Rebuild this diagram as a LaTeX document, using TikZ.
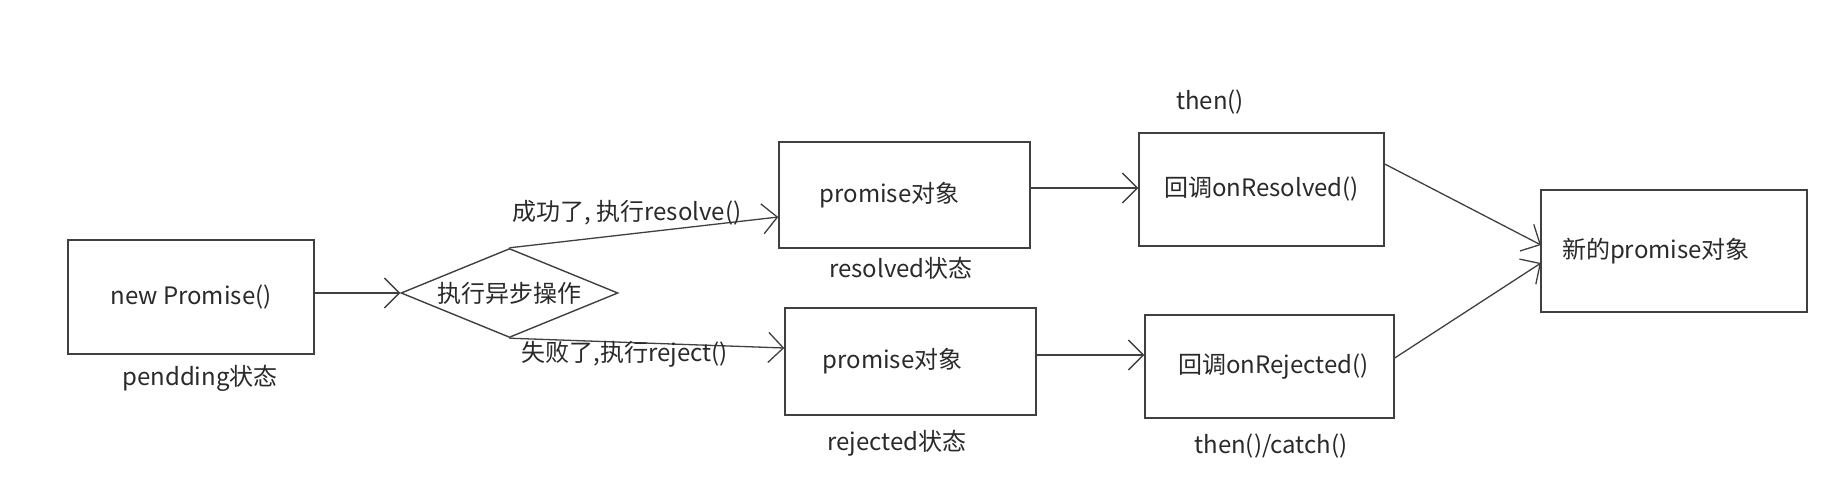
\documentclass[tikz,border=0pt]{standalone}
\usepackage{fontspec}
\setmainfont{Noto Sans CJK SC}
\usetikzlibrary{arrows.meta,shapes.geometric}
\definecolor{ln}{HTML}{404040}
\definecolor{tx}{HTML}{2A2A2A}
\tikzset{
  box/.style={draw=ln,line width=1.4pt,rectangle,inner sep=0pt,text=tx},
  lbl/.style={text=tx,inner sep=0pt},
  arr/.style={draw=ln,line width=1.3pt,-{Straight Barb[length=15pt,width=30pt,line width=1.3pt]}}
}
\begin{document}
\begin{tikzpicture}[x=1pt,y=-1pt,font=\fontsize{24}{28}\selectfont]
\useasboundingbox (0,0) rectangle (1842,488);
\fill[white] (0,0) rectangle (1842,488);
% boxes
\node[box,minimum width=246pt,minimum height=114pt] (np) at (191,297) {new Promise()};
\node[lbl] (pend) at (200,378) {pendding状态};
\node[box,diamond,aspect=2.44,minimum width=217pt,minimum height=89pt,inner sep=0pt] (dia) at (509.5,293) {执行异步操作};
\node[box,minimum width=251pt,minimum height=106pt] (pr) at (904.5,195) {\hspace*{-30pt}promise对象};
\node[lbl] (rs) at (901,268) {resolved状态};
\node[box,minimum width=251pt,minimum height=107pt] (pj) at (910.5,361.5) {\hspace*{-36pt}promise对象};
\node[lbl] (rj) at (897,443) {rejected状态};
\node[box,minimum width=245pt,minimum height=113pt] (or) at (1261.5,189.5) {回调onResolved()};
\node[lbl] (th) at (1210,102) {then()};
\node[box,minimum width=249pt,minimum height=103pt] (oj) at (1269.5,366.5) {\hspace*{8pt}回调onRejected()};
\node[lbl] (tc) at (1271,446) {then()/catch()};
\node[box,minimum width=266pt,minimum height=122pt] (nw) at (1674,251) {\hspace*{-36pt}新的promise对象};
% connectors
\draw[arr] (np.east |- dia.west) -- (dia.west);
\draw[arr] (dia.north) -- (pr.west |- 0,217);
\draw[arr] (dia.south) -- (pj.west |- 0,348);
\node[lbl] (okl) at (627,213) {成功了, 执行resolve()};
\node[lbl] (fl) at (625,354) {失败了,执行reject()};
\draw[arr] (pr.east |- 0,188) -- (or.west |- 0,188);
\draw[arr] (pj.east |- 0,355) -- (oj.west |- 0,355);
\coordinate (nwa) at (1541,245);
\coordinate (nwb) at (1541,263);
\draw[arr] (or.east |- 0,164) -- (nwa);
\draw[arr] (oj.east |- 0,358) -- (nwb);
\end{tikzpicture}
\end{document}
